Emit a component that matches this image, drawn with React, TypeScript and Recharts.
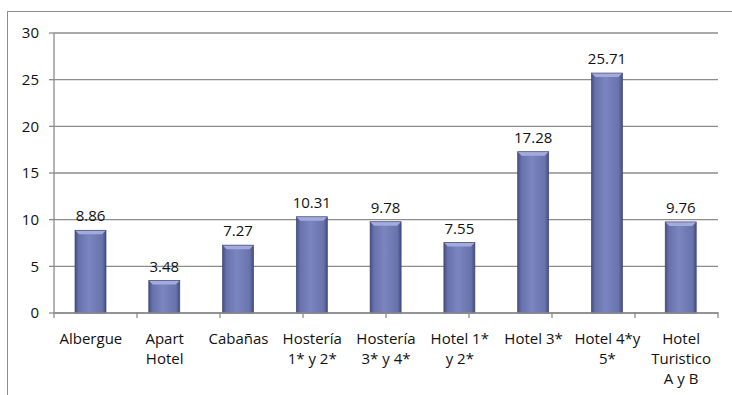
import React from 'react';
import { BarChart, Bar, XAxis, YAxis, CartesianGrid, LabelList } from 'recharts';

const categories = [
  'Albergue',
  'Apart\nHotel',
  'Cabañas',
  'Hostería\n1* y 2*',
  'Hostería\n3* y 4*',
  'Hotel 1*\ny 2*',
  'Hotel 3*',
  'Hotel 4*y\n5*',
  'Hotel\nTuristico\nA y B',
];
const values = [8.86, 3.48, 7.27, 10.31, 9.78, 7.55, 17.28, 25.71, 9.76];
const yTicks = [0, 5, 10, 15, 20, 25, 30];
const boundaryTicks = [0, 1, 2, 3, 4, 5, 6, 7, 8, 9];

const data = categories.map((name, i) => ({ name, value: values[i] }));

const FONT = '"Open Sans", Lato, sans-serif';
const FS = 15;
const TEXT = '#111';
const AXIS = '#8c8c8c';

const CategoryTick = (props: any) => {
  const { x, y, payload } = props;
  const lines = String(payload.value).split('\n');
  return (
    <text x={x} y={y + 22} textAnchor="middle" fontFamily={FONT} fontSize={FS} fill={TEXT}>
      {lines.map((l, i) => (
        <tspan key={i} x={x} dy={i === 0 ? 0 : 20}>
          {l}
        </tspan>
      ))}
    </text>
  );
};

// tick mark only, drawn at each category boundary
const EdgeTick = (props: any) => {
  const { x, y } = props;
  return <line x1={x} y1={y - 1} x2={x} y2={y + 5} stroke={AXIS} strokeWidth={1.3} />;
};

const CylBar = (props: any) => {
  const { x, y, width, height } = props;
  if (!height || height <= 0) return null;
  const b = 4;
  return (
    <g>
      <rect x={x} y={y} width={width} height={height} fill="url(#barGrad)" />
      <polygon
        points={`${x},${y} ${x + width},${y} ${x + width - b},${y + b} ${x + b},${y + b}`}
        fill="#a3abdc"
      />
      <rect x={x} y={y} width={width} height={height} fill="none" stroke="#3f4877" strokeWidth={0.7} />
    </g>
  );
};

export default function App() {
  return (
    <div style={{ position: 'absolute', left: 0, top: 0, width: 732, height: 395, overflow: 'hidden', background: '#fff' }}>
      <div
        style={{
          position: 'absolute',
          left: 7,
          top: 11,
          width: 800,
          height: 500,
          border: '1.5px solid #8c8c8c',
        }}
      />
      <div style={{ position: 'absolute', left: 0, top: 0 }}>
        <BarChart
          width={732}
          height={395}
          data={data}
          margin={{ top: 33, right: 14, bottom: 0, left: 0 }}
          barSize={31}
        >
          <defs>
            <linearGradient id="barGrad" x1="0" y1="0" x2="1" y2="0">
              <stop offset="0%" stopColor="#454e80" />
              <stop offset="12%" stopColor="#6772ab" />
              <stop offset="45%" stopColor="#7b86c1" />
              <stop offset="88%" stopColor="#6873ac" />
              <stop offset="100%" stopColor="#434c7d" />
            </linearGradient>
          </defs>
          <CartesianGrid vertical={false} stroke={AXIS} strokeWidth={1.3} />
          <XAxis
            xAxisId="a"
            type="number"
            domain={[0, 9]}
            ticks={boundaryTicks}
            interval={0}
            tick={<EdgeTick />}
            tickSize={0}
            tickMargin={0}
            tickLine={false}
            axisLine={{ stroke: AXIS, strokeWidth: 1.3 }}
            height={1}
          />
          <XAxis
            dataKey="name"
            xAxisId="b"
            tickLine={false}
            axisLine={false}
            tick={<CategoryTick />}
            interval={0}
            height={81}
          />
          <YAxis
            domain={[0, 30]}
            ticks={yTicks}
            width={54}
            tickSize={5}
            tickMargin={10}
            tick={{ fontFamily: FONT, fontSize: FS, fill: TEXT }}
            tickLine={{ stroke: AXIS, strokeWidth: 1.3 }}
            axisLine={{ stroke: AXIS, strokeWidth: 1.3 }}
          />
          <Bar dataKey="value" xAxisId="b" shape={<CylBar />} isAnimationActive={false}>
            <LabelList
              dataKey="value"
              position="top"
              offset={9}
              formatter={(v: any) => Number(v).toFixed(2)}
              style={{ fontFamily: FONT, fontSize: FS, fill: TEXT }}
            />
          </Bar>
        </BarChart>
      </div>
    </div>
  );
}
